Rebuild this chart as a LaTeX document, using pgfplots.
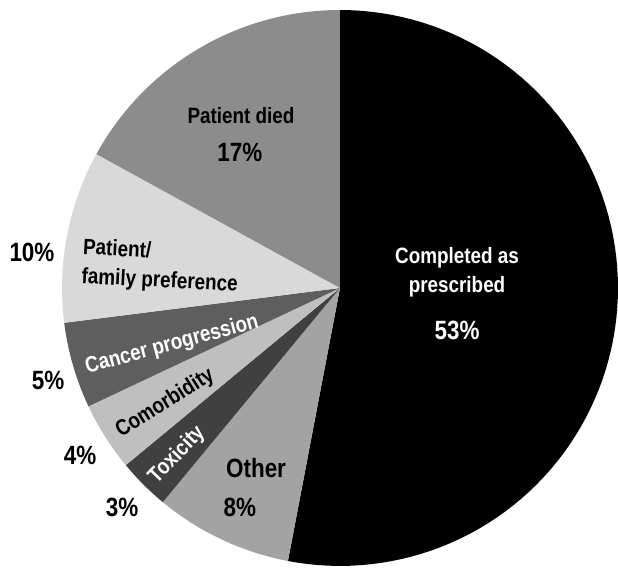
\documentclass[border=0pt]{standalone}
\usepackage{fontspec}
\setmainfont{Liberation Sans}[FakeStretch=0.85]
\usepackage{pgfplots}
\pgfplotsset{compat=1.18}

\definecolor{cDied}{gray}{0.55}
\definecolor{cPref}{gray}{0.85}
\definecolor{cProg}{gray}{0.37}
\definecolor{cComo}{gray}{0.75}
\definecolor{cTox}{gray}{0.25}
\definecolor{cOther}{gray}{0.64}

% Shares (percent), clockwise from 12 o'clock:
% Completed 53, Other 8, Toxicity 3, Comorbidity 4,
% Cancer progression 5, Patient/family preference 10, Patient died 17
% Slice boundaries are the running totals 0,53,61,64,68,73,83,100.
\newcommand{\lbl}{\bfseries\fontsize{11.1}{14.5}\selectfont}
\newcommand{\pct}{\bfseries\fontsize{13.2}{15}\selectfont}

\begin{document}
\begin{tikzpicture}
\begin{axis}[
  hide axis, scale only axis, clip=false,
  width=309pt, height=284.5pt,
  xmin=-1.223, xmax=1.0, ymin=-1.011, ymax=1.036,
  samples=90,
  slice/.style={draw=none},
]
\addplot[slice, fill=black,  domain=0*3.6:53*3.6]  ({sin(x)},{cos(x)}) -- (axis cs:0,0) -- cycle;
\addplot[slice, fill=cOther, domain=53*3.6:61*3.6] ({sin(x)},{cos(x)}) -- (axis cs:0,0) -- cycle;
\addplot[slice, fill=cTox,   domain=61*3.6:64*3.6] ({sin(x)},{cos(x)}) -- (axis cs:0,0) -- cycle;
\addplot[slice, fill=cComo,  domain=64*3.6:68*3.6] ({sin(x)},{cos(x)}) -- (axis cs:0,0) -- cycle;
\addplot[slice, fill=cProg,  domain=68*3.6:73*3.6] ({sin(x)},{cos(x)}) -- (axis cs:0,0) -- cycle;
\addplot[slice, fill=cPref,  domain=73*3.6:83*3.6] ({sin(x)},{cos(x)}) -- (axis cs:0,0) -- cycle;
\addplot[slice, fill=cDied,  domain=83*3.6:100*3.6] ({sin(x)},{cos(x)}) -- (axis cs:0,0) -- cycle;

% category labels
\node[white, align=center, font=\lbl] at (axis cs:0.421,0.056) {Completed as\\prescribed};
\node[white, font=\pct] at (axis cs:0.421,-0.151) {53\%};
\node[font=\lbl] at (axis cs:-0.356,0.622) {Patient died};
\node[font=\pct] at (axis cs:-0.360,0.489) {17\%};
\node[font=\lbl, align=left, anchor=west, rotate=-3, inner sep=0pt] at (axis cs:-0.928,0.090) {Patient/\\family preference};
\node[font=\pct] at (axis cs:-1.108,0.129) {10\%};
\node[white, font=\lbl, rotate=15] at (axis cs:-0.604,-0.205) {Cancer progression};
\node[font=\pct] at (axis cs:-1.050,-0.331) {5\%};
\node[font=\lbl, rotate=32] at (axis cs:-0.629,-0.414) {Comorbidity};
\node[font=\pct] at (axis cs:-0.935,-0.601) {4\%};
\node[white, font=\lbl, rotate=46] at (axis cs:-0.586,-0.601) {Toxicity};
\node[font=\pct] at (axis cs:-0.784,-0.788) {3\%};
\node[font=\pct] at (axis cs:-0.302,-0.647) {Other};
\node[font=\pct] at (axis cs:-0.360,-0.788) {8\%};
\end{axis}
\path (current axis.south west) (current axis.north east);
\end{tikzpicture}
\end{document}
